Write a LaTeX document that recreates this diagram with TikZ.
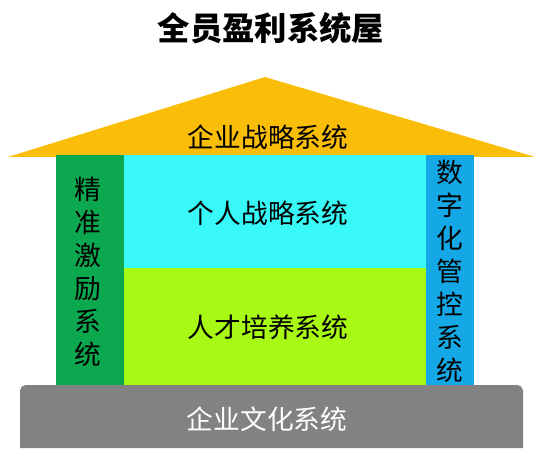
\documentclass[tikz,border=0pt]{standalone}
\usepackage{fontspec}
\newfontfamily\cjk{Noto Sans CJK SC}
\definecolor{roof}{HTML}{FBBE08}
\definecolor{pillarL}{HTML}{0CA850}
\definecolor{pillarR}{HTML}{14A8E6}
\definecolor{upper}{HTML}{38F8F8}
\definecolor{lower}{HTML}{A8FA14}
\definecolor{ground}{HTML}{828282}
\tikzset{
  label/.style={font=\cjk\fontsize{19}{23.5}\selectfont, inner sep=0pt},
  column/.style={label, align=center}
}

\begin{document}
\begin{tikzpicture}[x=0.025cm, y=-0.025cm]
  \useasboundingbox (0,0) rectangle (543,458);

  % roof
  \coordinate (apex) at (265,77);
  \coordinate (eaveL) at (8,157);
  \coordinate (eaveR) at (535,157);
  \fill[roof] (eaveL) -- (apex) -- (eaveR) -- cycle;

  % pillars and floors
  \fill[pillarL] (56,155) rectangle (124,385);
  \fill[upper] (124,155) rectangle (426,268);
  \fill[lower] (124,268) rectangle (426,385);
  \fill[pillarR] (426,155) rectangle (474,385);

  % base
  \fill[ground] (20,448) [rounded corners=4pt] -- (20,385) -- (523,385) [sharp corners] -- (523,448) -- cycle;

  % texts
  \node (title) at (271,28) {\cjk\bfseries\fontsize{23}{26}\selectfont 全员盈利系统屋};
  \node[label] (strategy) at (268,137) {企业战略系统};
  \node[label] (personal) at (268,213) {个人战略系统};
  \node[label] (talent) at (268,327) {人才培养系统};
  \node[label, white] (culture) at (267,419) {企业文化系统};
  \node[column] (incentive) at (88,272) {精\\准\\激\\励\\系\\统};
  \node[column] (digital) at (450,271) {数\\字\\化\\管\\控\\系\\统};
\end{tikzpicture}
\end{document}
